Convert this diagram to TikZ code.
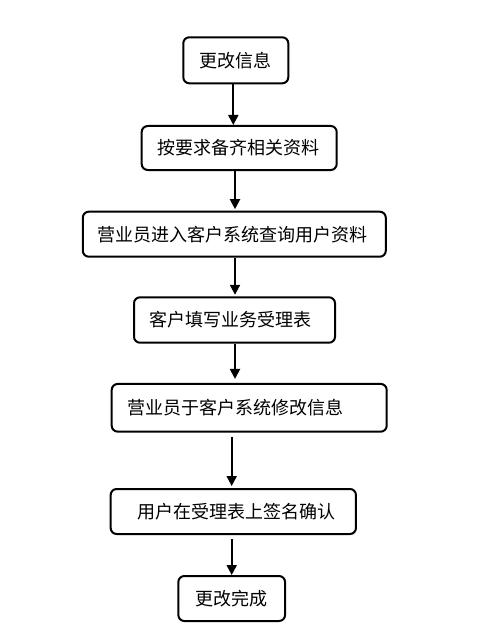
\documentclass[tikz,border=0pt]{standalone}
\usepackage{fontspec}
\setmainfont{Noto Sans CJK SC}
\usetikzlibrary{arrows.meta}
\tikzset{
  box/.style={draw=black, line width=2bp, rounded corners=6bp, inner sep=0pt, font=\fontsize{18bp}{20bp}\selectfont},
  arr/.style={draw=black, line width=2bp, -{Triangle[length=10bp,width=10bp]}}
}
\begin{document}
\begin{tikzpicture}[x=1bp,y=-1bp]
\useasboundingbox (0,0) rectangle (478,641);
\node[box, minimum width=105bp, minimum height=46bp] (b1) at (235.8,60.3) {更改信息\hspace*{1.6bp}};
\node[box, minimum width=195bp, minimum height=44bp] (b2) at (239.2,148) {按要求备齐相关资料\hspace*{2.4bp}};
\node[box, minimum width=303bp, minimum height=45bp] (b3) at (234.3,234.2) {营业员进入客户系统查询用户资料\hspace*{3.6bp}};
\node[box, minimum width=201bp, minimum height=45.4bp] (b4) at (234.5,320) {客户填写业务受理表\hspace*{9bp}};
\node[box, minimum width=275bp, minimum height=47.7bp] (b5) at (249.2,407.8) {营业员于客户系统修改信息\hspace*{28.4bp}};
\node[box, minimum width=245.3bp, minimum height=45bp] (b6) at (233.3,511.5) {\hspace*{6.8bp}用户在受理表上签名确认};
\node[box, minimum width=106.7bp, minimum height=45bp] (b7) at (231.7,598.5) {更改完成};
\draw[arr] ([xshift=-2.5bp]b1.south) -- ([xshift=-2.5bp]b1.south |- b2.north);
\draw[arr] ([xshift=-4.2bp]b2.south) -- ([xshift=-4.2bp,yshift=1.5bp]b2.south |- b3.north);
\draw[arr] ([xshift=0.7bp]b3.south) -- ([xshift=0.7bp,yshift=1.5bp]b3.south |- b4.north);
\draw[arr] ([xshift=0.5bp]b4.south) -- ([xshift=0.5bp,yshift=4bp]b4.south |- b5.north);
\draw[arr] ([xshift=-17.5bp,yshift=-4bp]b5.south) -- ([xshift=-17.5bp,yshift=2bp]b5.south |- b6.north);
\draw[arr] ([xshift=-1.6bp,yshift=-4bp]b6.south) -- ([xshift=-1.6bp]b6.south |- b7.north);
\end{tikzpicture}
\end{document}
